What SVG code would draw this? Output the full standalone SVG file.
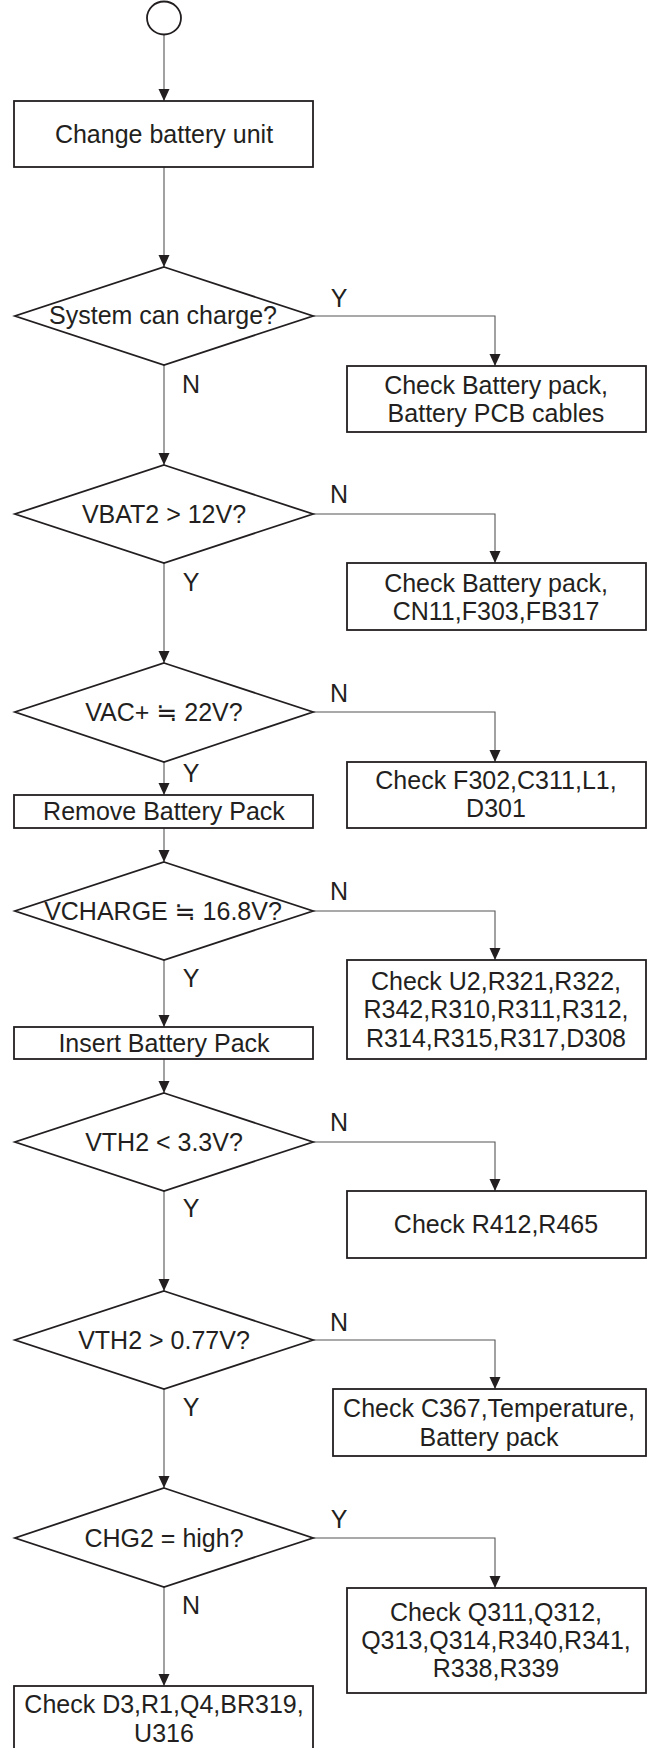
<svg xmlns="http://www.w3.org/2000/svg" width="649" height="1748" viewBox="0 0 649 1748">
<style>
.n{fill:#fff;stroke:#231f20;stroke-width:1.8}
.c{fill:none;stroke:#555;stroke-width:1.1}
text{font-family:"Liberation Sans",Arial,"DejaVu Sans",sans-serif;font-size:25px;fill:#231f20;text-anchor:middle}
</style>
<defs>
<marker id="ah" markerUnits="userSpaceOnUse" markerWidth="13" markerHeight="12" refX="12" refY="5.5" orient="auto">
<path d="M0,0 L12,5.5 L0,11 z" fill="#231f20"/>
</marker>
</defs>
<rect width="649" height="1748" fill="#fff"/>
<g id="connectors">
<path class="c" d="M164,35 V101" marker-end="url(#ah)"/>
<path class="c" d="M164,167 V267" marker-end="url(#ah)"/>
<path class="c" d="M313,316 H495 V366" marker-end="url(#ah)"/>
<path class="c" d="M164,365 V465" marker-end="url(#ah)"/>
<path class="c" d="M313,514 H495 V563" marker-end="url(#ah)"/>
<path class="c" d="M164,563 V663" marker-end="url(#ah)"/>
<path class="c" d="M313,712 H495 V762" marker-end="url(#ah)"/>
<path class="c" d="M164,762 V795" marker-end="url(#ah)"/>
<path class="c" d="M164,828 V862" marker-end="url(#ah)"/>
<path class="c" d="M313,911 H495 V960" marker-end="url(#ah)"/>
<path class="c" d="M164,960 V1027" marker-end="url(#ah)"/>
<path class="c" d="M164,1059 V1093" marker-end="url(#ah)"/>
<path class="c" d="M313,1142 H495 V1191" marker-end="url(#ah)"/>
<path class="c" d="M164,1191 V1291" marker-end="url(#ah)"/>
<path class="c" d="M313,1340 H495 V1389" marker-end="url(#ah)"/>
<path class="c" d="M164,1389 V1488" marker-end="url(#ah)"/>
<path class="c" d="M313,1538 H495 V1588" marker-end="url(#ah)"/>
<path class="c" d="M164,1587 V1686" marker-end="url(#ah)"/>
<text x="339" y="307">Y</text>
<text x="191" y="393">N</text>
<text x="339" y="503">N</text>
<text x="191" y="591">Y</text>
<text x="339" y="702">N</text>
<text x="191" y="782">Y</text>
<text x="339" y="900">N</text>
<text x="191" y="987">Y</text>
<text x="339" y="1131">N</text>
<text x="191" y="1217">Y</text>
<text x="339" y="1331">N</text>
<text x="191" y="1416">Y</text>
<text x="339" y="1528">Y</text>
<text x="191" y="1614">N</text>
</g>
<g id="start"><ellipse class="n" cx="164" cy="18" rx="17" ry="16.5"/></g>
<g id="change-battery"><rect class="n" x="14" y="101" width="299" height="66"/><text x="164" y="143">Change battery unit</text></g>
<g id="d-charge"><path class="n" d="M164,267 L313,316 L164,365 L15,316 z"/><text x="163" y="324">System can charge?</text></g>
<g id="b-pack-cables"><rect class="n" x="347" y="366" width="299" height="66"/><text x="496" y="394">Check Battery pack,</text><text x="496" y="422">Battery PCB cables</text></g>
<g id="d-vbat2"><path class="n" d="M164,465 L313,514 L164,563 L15,514 z"/><text x="164" y="523">VBAT2 &gt; 12V?</text></g>
<g id="b-cn11"><rect class="n" x="347" y="563" width="299" height="67"/><text x="496" y="592">Check Battery pack,</text><text x="496" y="620">CN11,F303,FB317</text></g>
<g id="d-vac"><path class="n" d="M164,663 L313,712 L164,762 L15,712 z"/><text x="164" y="721">VAC+ ≒ 22V?</text></g>
<g id="b-f302"><rect class="n" x="347" y="762" width="299" height="66"/><text x="496" y="789">Check F302,C311,L1,</text><text x="496" y="817">D301</text></g>
<g id="remove-pack"><rect class="n" x="14" y="795" width="299" height="33"/><text x="164" y="820">Remove Battery Pack</text></g>
<g id="d-vcharge"><path class="n" d="M164,862 L313,911 L164,960 L15,911 z"/><text x="163" y="920">VCHARGE ≒ 16.8V?</text></g>
<g id="b-u2"><rect class="n" x="347" y="960" width="299" height="99"/><text x="496" y="990">Check U2,R321,R322,</text><text x="496" y="1018">R342,R310,R311,R312,</text><text x="496" y="1047">R314,R315,R317,D308</text></g>
<g id="insert-pack"><rect class="n" x="14" y="1027" width="299" height="32"/><text x="164" y="1052">Insert Battery Pack</text></g>
<g id="d-vth2-33"><path class="n" d="M164,1093 L313,1142 L164,1191 L15,1142 z"/><text x="164" y="1151">VTH2 &lt; 3.3V?</text></g>
<g id="b-r412"><rect class="n" x="347" y="1191" width="299" height="67"/><text x="496" y="1233">Check R412,R465</text></g>
<g id="d-vth2-077"><path class="n" d="M164,1291 L313,1340 L164,1389 L15,1340 z"/><text x="164" y="1349">VTH2 &gt; 0.77V?</text></g>
<g id="b-c367"><rect class="n" x="333" y="1389" width="313" height="67"/><text x="489" y="1417">Check C367,Temperature,</text><text x="489" y="1446">Battery pack</text></g>
<g id="d-chg2"><path class="n" d="M164,1488 L313,1538 L164,1587 L15,1538 z"/><text x="164" y="1547">CHG2 = high?</text></g>
<g id="b-q311"><rect class="n" x="347" y="1588" width="299" height="105"/><text x="496" y="1621">Check Q311,Q312,</text><text x="496" y="1649">Q313,Q314,R340,R341,</text><text x="496" y="1677">R338,R339</text></g>
<g id="b-d3"><rect class="n" x="14" y="1686" width="299" height="70"/><text x="164" y="1713">Check D3,R1,Q4,BR319,</text><text x="164" y="1742">U316</text></g>
</svg>
